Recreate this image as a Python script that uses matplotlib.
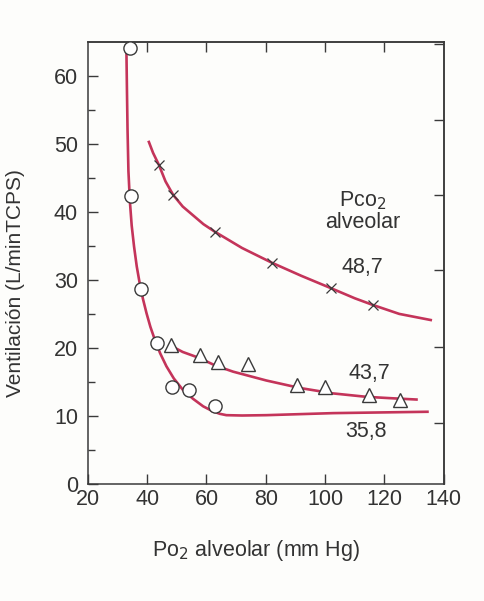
import numpy as np
import matplotlib
matplotlib.use('Agg')
import matplotlib.pyplot as plt

plt.rcParams['font.family'] = ['Liberation Sans', 'DejaVu Sans']

# measured points (PO2 alveolar mm Hg, ventilation L/min)
po2_358 = [34.2, 34.5, 38.1, 43.2, 48.4, 54.0, 63.0]
v_358 = [64.2, 42.3, 28.6, 20.7, 14.2, 13.8, 11.5]

po2_437 = [48.2, 57.7, 63.9, 74.0, 90.5, 99.9, 114.7, 125.4]
v_437 = [20.4, 19.0, 17.9, 17.7, 14.5, 14.2, 13.0, 12.3]

po2_487 = [44.0, 48.8, 62.8, 82.2, 101.9, 116.2]
v_487 = [46.9, 42.5, 37.1, 32.5, 28.8, 26.3]

# fitted curves
cx_358 = [33.0, 33.2, 33.4, 33.7, 34.2, 34.8, 35.6, 36.5, 37.5, 38.6, 39.8, 41.1, 42.6, 44.4,
          46.5, 49.0, 52.1, 55.5, 58.9, 62.0, 64.5, 66.7, 72.0, 80.2, 102.7, 134.5]
cy_358 = [64.5, 58.0, 52.1, 46.0, 41.5, 38.0, 34.9, 32.0, 29.5, 27.2, 25.1, 23.1, 21.2, 19.2,
          17.3, 15.5, 13.8, 12.5, 11.4, 10.7, 10.3, 10.1, 10.05, 10.1, 10.4, 10.6]

cx_437 = [48.5, 52.0, 57.7, 63.0, 69.0, 80.2, 91.5, 102.7, 113.9, 122.0, 130.8]
cy_437 = [20.2, 19.4, 18.5, 17.4, 16.5, 15.2, 14.1, 13.3, 12.8, 12.6, 12.4]

cx_487 = [40.6, 42.0, 44.0, 46.2, 48.8, 52.0, 55.5, 59.0, 62.8, 72.0, 82.2, 92.0, 101.9, 110.0, 116.2, 125.0, 135.6]
cy_487 = [50.3, 48.7, 46.9, 44.5, 42.5, 40.8, 39.5, 38.2, 37.1, 34.7, 32.5, 30.6, 28.8, 27.3, 26.3, 25.0, 24.1]

xticks = [20, 40, 60, 80, 100, 120, 140]
yticks = [0, 10, 20, 30, 40, 50, 60]
right_ticks = [9.0, 20.2, 31.4, 42.5, 53.6, 64.7]

red = '#c4345a'
ink = '#3a3a3a'
txt = '#333333'
fs = 15.5

fig = plt.figure(figsize=(4.85, 6.01), dpi=100)
fig.patch.set_facecolor('#fdfdfb')
ax = fig.add_axes([0.181, 0.195, 0.734, 0.735])
ax.set_facecolor('#fdfdfb')

ax.plot(cx_358, cy_358, color=red, lw=1.9, zorder=2)
ax.plot(cx_437, cy_437, color=red, lw=1.9, zorder=2)
ax.plot(cx_487, cy_487, color=red, lw=1.9, zorder=2)

ax.plot(po2_358, v_358, 'o', ms=9.5, mfc='white', mec=ink, mew=1.0, zorder=3)
ax.plot(po2_437, v_437, '^', ms=9.5, mfc='white', mec=ink, mew=1.0, zorder=3)
ax.plot(po2_487, v_487, 'x', ms=7, mec=ink, mew=0.9, zorder=3)

ax.set_xlim(20, 140)
ax.set_ylim(0, 65)
ax.set_xticks(xticks)
ax.set_yticks(yticks)
ax.set_yticks([5, 15, 25, 35, 45, 55], minor=True)
ax.tick_params(axis='both', direction='in', length=7, width=1.0, color=ink,
               labelsize=fs, labelcolor=txt)
ax.tick_params(axis='y', which='minor', direction='in', length=5, width=1.0, color=ink)
ax.tick_params(axis='y', pad=7)
ax.tick_params(axis='x', pad=4)

# top and right ticks without labels
top = ax.secondary_xaxis('top')
top.set_xticks(xticks[1:-1])
top.tick_params(direction='in', length=7, width=1.0, color=ink, labeltop=False)
right = ax.secondary_yaxis('right')
right.set_yticks(right_ticks)
right.tick_params(direction='in', length=7, width=1.0, color=ink, labelright=False)
for a in (ax, top, right):
    for s in a.spines.values():
        s.set_color(ink)
        s.set_linewidth(1.1)

ax.set_ylabel('Ventilación (L/minTCPS)', fontsize=15, color=txt)
ax.yaxis.set_label_coords(-0.177, 0.455)
ax.set_xlabel('Po$_2$ alveolar (mm Hg)', fontsize=fs, color=txt)
ax.xaxis.set_label_coords(0.472, -0.122)

ax.text(112.8, 41.7, 'Pco$_2$', fontsize=fs, color=txt, ha='center', va='center')
ax.text(112.7, 38.5, 'alveolar', fontsize=fs, color=txt, ha='center', va='center')
ax.text(112.7, 31.8, '48,7', fontsize=fs, color=txt, ha='center', va='center')
ax.text(115, 16.3, '43,7', fontsize=fs, color=txt, ha='center', va='center')
ax.text(113.9, 7.7, '35,8', fontsize=fs, color=txt, ha='center', va='center')

fig.savefig('out.png', dpi=100, facecolor=fig.get_facecolor())
